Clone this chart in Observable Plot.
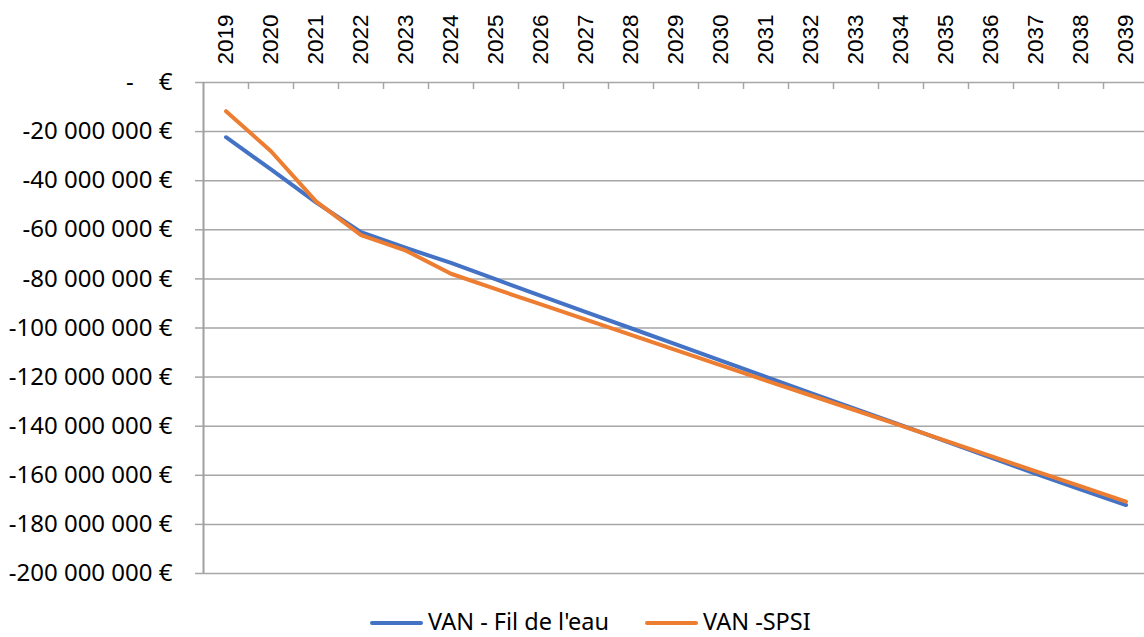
<!DOCTYPE html>
<html><head><meta charset="utf-8">
<script src="https://cdn.jsdelivr.net/npm/d3@7"></script>
<script src="https://cdn.jsdelivr.net/npm/@observablehq/plot@0.6"></script>
<style>
body{margin:0;background:#fff;}
#chart{position:relative;width:1144px;height:637px;overflow:hidden;}
#chart svg{display:block;}
.legend{position:absolute;left:370px;top:610px;display:flex;align-items:center;font-family:"Noto Sans",sans-serif;font-size:23.5px;color:#000;white-space:nowrap;line-height:22px;height:22px;}
.item{display:flex;align-items:center;}
.sw{display:inline-block;width:53px;height:4px;margin-right:5px;border-radius:2px;position:relative;top:2px;}
</style></head><body><div id="chart"></div>
<script>
const years = [2019,2020,2021,2022,2023,2024,2025,2026,2027,2028,2029,2030,2031,2032,2033,2034,2035,2036,2037,2038,2039];
const vanFilDeLeau = [-22.3e6,-35.4e6,-48.8e6,-61.0e6,-67.4e6,-73.5e6,-80.2e6,-86.9e6,-93.5e6,-100.1e6,-106.7e6,-113.3e6,-119.9e6,-126.5e6,-133.0e6,-139.6e6,-146.2e6,-152.8e6,-159.4e6,-165.8e6,-172.1e6];
const vanSPSI = [-11.7e6,-28.0e6,-48.4e6,-62.2e6,-68.5e6,-77.9e6,-84.2e6,-90.4e6,-96.6e6,-102.8e6,-109.0e6,-115.2e6,-121.4e6,-127.5e6,-133.6e6,-139.8e6,-146.0e6,-152.2e6,-158.4e6,-164.5e6,-170.7e6];
const seriesNames = ["VAN - Fil de l'eau","VAN -SPSI"];
const seriesColors = ["#4472C4","#ED7D31"];
const yTicks = [0,-20e6,-40e6,-60e6,-80e6,-100e6,-120e6,-140e6,-160e6,-180e6,-200e6];
const yTickLabels = ["-\u00a0\u00a0\u00a0\u00a0€","-20 000 000 €","-40 000 000 €","-60 000 000 €","-80 000 000 €","-100 000 000 €","-120 000 000 €","-140 000 000 €","-160 000 000 €","-180 000 000 €","-200 000 000 €"];

const data = [];
years.forEach((y,i)=>{
  data.push({year:y, value:vanFilDeLeau[i], series:seriesNames[0]});
});
years.forEach((y,i)=>{
  data.push({year:y, value:vanSPSI[i], series:seriesNames[1]});
});
const boundaries = years.slice(0,-1).map(y=>y+0.5);
const grid = "#a6a6a6";

const chart = Plot.plot({
  width:1144, height:600,
  marginLeft:203, marginRight:0, marginTop:82, marginBottom:27,
  style:{fontFamily:"Noto Sans", fontSize:"24px", color:"#000", background:"#fff", overflow:"visible"},
  x:{type:"linear", domain:[years[0]-0.5, years[years.length-1]+0.5], range:[203,1148]},
  y:{domain:[-200e6,0]},
  color:{domain:seriesNames, range:seriesColors},
  marks:[
    Plot.ruleY(yTicks, {stroke:grid, strokeWidth:1.5}),
    Plot.ruleX(boundaries, {x:d=>d, y1:0, y2:0, insetBottom:-7, stroke:grid, strokeWidth:1.5}),
    Plot.axisY({ticks:yTicks, tickFormat:d=>yTickLabels[yTicks.indexOf(d)], tickSize:8, tickPadding:23, stroke:grid, strokeWidth:1.5, label:null, fontSize:24, fill:"#000"}),
    Plot.ruleX([years[0]-0.5], {stroke:"#a0a0a0", strokeWidth:2}),
    Plot.axisX({anchor:"top", ticks:years, tickFormat:d=>String(d), tickSize:0, tickPadding:18, tickRotate:-90, fontSize:22.5, fontFamily:"Liberation Sans", label:null, fill:"#000"}),
    Plot.line(data, {x:"year", y:"value", stroke:"series", z:"series", strokeWidth:4, strokeLinecap:"round", strokeLinejoin:"round"})
  ]
});
const root = document.getElementById("chart");
root.appendChild(chart);
const leg = document.createElement("div");
leg.className = "legend";
seriesNames.forEach((n,i)=>{
  const it = document.createElement("span");
  it.className = "item";
  if (i>0) it.style.marginLeft = "36px";
  const sw = document.createElement("span");
  sw.className = "sw";
  sw.style.background = seriesColors[i];
  const t = document.createElement("span");
  t.textContent = n;
  it.appendChild(sw); it.appendChild(t);
  leg.appendChild(it);
});
root.appendChild(leg);
</script>
</body></html>
